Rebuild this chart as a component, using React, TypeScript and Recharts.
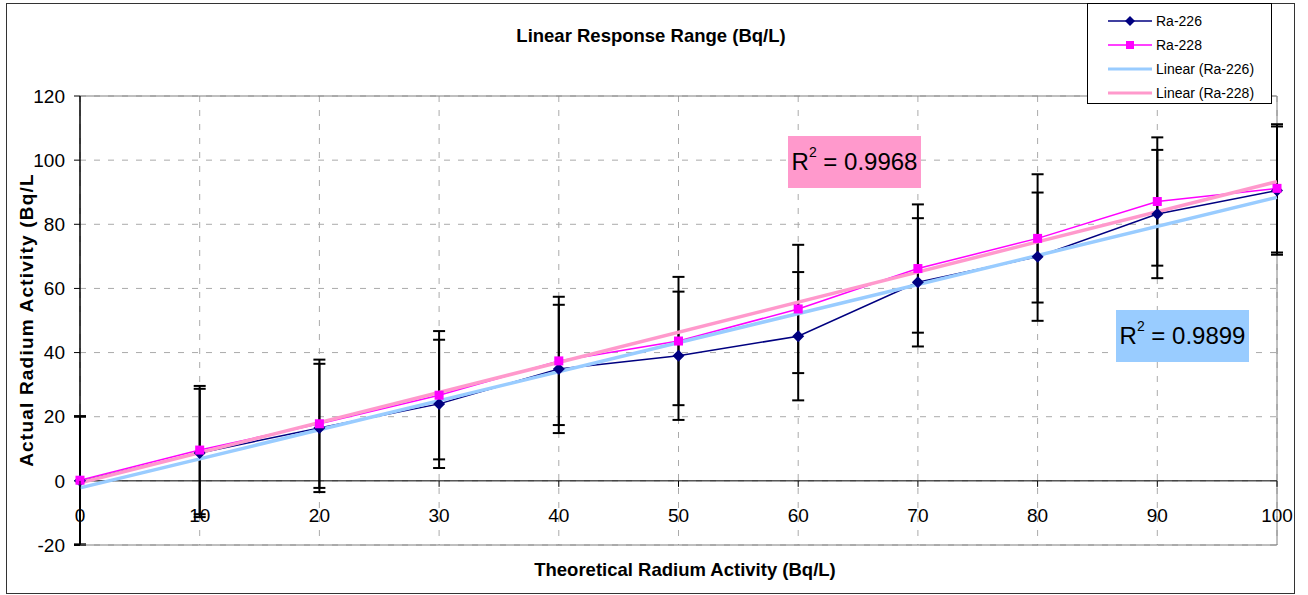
import {
  CartesianGrid,
  ComposedChart,
  ErrorBar,
  Line,
  ReferenceLine,
  XAxis,
  YAxis,
} from 'recharts';

// theoretical activity (Bq/L)
const theoretical = [0, 10, 20, 30, 40, 50, 60, 70, 80, 90, 100];
// measured activity (Bq/L)
const ra226 = [0, 8.7, 16.5, 24.0, 34.9, 39.0, 45.1, 61.9, 69.9, 83.2, 90.5];
const ra228 = [0.2, 9.6, 17.8, 26.7, 37.4, 43.6, 53.6, 66.2, 75.6, 87.1, 91.2];
// fixed +/- error bars
const err226 = [20, 20, 20, 20, 20, 20, 20, 20, 20, 20, 20];
const err228 = [20, 20, 20, 20, 20, 20, 20, 20, 20, 20, 20];
// linear trendlines, read at x = 0 and x = 100
const trendX = [0, 100];
const trend226 = [-2.2, 88.4];
const trend228 = [-0.6, 93.3];

const xTicks = [0, 10, 20, 30, 40, 50, 60, 70, 80, 90, 100];
const yTicks = [-20, 0, 20, 40, 60, 80, 100, 120];

const r2Ra226 = '0.9899';
const r2Ra228 = '0.9968';

const legendItems = ['Ra-226', 'Ra-228', 'Linear (Ra-226)', 'Linear (Ra-228)'];

const FONT = 'Arial, "Liberation Sans", sans-serif';
const NAVY = '#000080';
const MAGENTA = '#FF00FF';
const LIGHT_BLUE = '#99CCFF';
const PINK = '#FF99CC';

const PLOT_TOP = 96;
const PLOT_BOTTOM = 545;
const ZERO_OFFSET = ((PLOT_BOTTOM - PLOT_TOP) * 20) / 140;

const chartData = theoretical.map((x, i) => {
  const t = trendX.indexOf(x);
  return {
    x,
    ra226: ra226[i],
    ra228: ra228[i],
    e226: err226[i],
    e228: err228[i],
    t226: t >= 0 ? trend226[t] : undefined,
    t228: t >= 0 ? trend228[t] : undefined,
  };
});

// eslint-disable-next-line @typescript-eslint/no-explicit-any
function XTick(props: any) {
  const { x, y, payload } = props;
  const zeroY = y - ZERO_OFFSET;
  return (
    <g>
      <line x1={x} x2={x} y1={zeroY} y2={zeroY + 6} stroke="#000" />
      <text x={x} y={y - 23} textAnchor="middle" fontSize={19} fill="#000" fontFamily={FONT}>
        {payload.value}
      </text>
    </g>
  );
}

// eslint-disable-next-line @typescript-eslint/no-explicit-any
function Diamond(props: any) {
  const { cx, cy } = props;
  if (cx == null || cy == null) return null;
  const s = 6;
  return (
    <polygon
      points={`${cx},${cy - s} ${cx + s},${cy} ${cx},${cy + s} ${cx - s},${cy}`}
      fill={NAVY}
    />
  );
}

// eslint-disable-next-line @typescript-eslint/no-explicit-any
function Square(props: any) {
  const { cx, cy } = props;
  if (cx == null || cy == null) return null;
  const s = 4.5;
  return <rect x={cx - s} y={cy - s} width={s * 2} height={s * 2} fill={MAGENTA} />;
}

function LegendIcon({ index }: { index: number }) {
  return (
    <svg width={46} height={10} style={{ display: 'block' }}>
      {index === 0 && (
        <>
          <line x1={0} x2={44} y1={5} y2={5} stroke={NAVY} strokeWidth={1.5} />
          <polygon points="22,0 27,5 22,10 17,5" fill={NAVY} />
        </>
      )}
      {index === 1 && (
        <>
          <line x1={0} x2={44} y1={5} y2={5} stroke={MAGENTA} strokeWidth={1.5} />
          <rect x={18} y={1} width={8} height={8} fill={MAGENTA} />
        </>
      )}
      {index === 2 && <line x1={0} x2={44} y1={5} y2={5} stroke={LIGHT_BLUE} strokeWidth={3} />}
      {index === 3 && <line x1={0} x2={44} y1={5} y2={5} stroke={PINK} strokeWidth={3} />}
    </svg>
  );
}

function R2Box({ value, left, top, color }: { value: string; left: number; top: number; color: string }) {
  return (
    <div
      style={{
        position: 'absolute',
        left,
        top,
        width: 133,
        height: 52,
        background: color,
        display: 'flex',
        alignItems: 'center',
        justifyContent: 'center',
        fontFamily: FONT,
        fontSize: 24,
        color: '#000',
      }}
    >
      <span>
        R<sup style={{ fontSize: 14, verticalAlign: 'top', position: 'relative', top: -4 }}>2</sup> = {value}
      </span>
    </div>
  );
}

export default function App() {
  return (
    <div
      style={{
        position: 'absolute',
        left: 0,
        top: 0,
        width: 1308,
        height: 595,
        background: '#fff',
        fontFamily: FONT,
      }}
    >
      <div
        style={{
          position: 'absolute',
          left: 6,
          top: 3,
          width: 1287,
          height: 589,
          border: '1.5px solid #333',
        }}
      />
      <ComposedChart
        width={1308}
        height={595}
        data={chartData}
        margin={{ top: PLOT_TOP, right: 31, left: 20, bottom: 20 }}
        style={{ position: 'absolute', left: 0, top: 0 }}
      >
        <CartesianGrid stroke="#aaa" strokeDasharray="6 8" />
        <XAxis
          dataKey="x"
          type="number"
          domain={[0, 100]}
          ticks={xTicks}
          height={30}
          axisLine={{ stroke: '#808080' }}
          tickLine={false}
          tickSize={0}
          tickMargin={0}
          tick={<XTick />}
          interval={0}
        />
        <YAxis
          type="number"
          domain={[-20, 120]}
          ticks={yTicks}
          width={60}
          interval={0}
          axisLine={{ stroke: '#000', strokeWidth: 1.5 }}
          tickLine={{ stroke: '#000' }}
          tickSize={6}
          tickMargin={9}
          tick={{ fontSize: 19, fill: '#000', fontFamily: FONT }}
        />
        <ReferenceLine y={120} stroke="#808080" />
        <ReferenceLine x={100} stroke="#808080" />
        <ReferenceLine y={0} stroke="#000" />

        <Line
          dataKey="ra226"
          stroke={NAVY}
          strokeWidth={1.5}
          dot={<Diamond />}
          activeDot={false}
          isAnimationActive={false}
        >
          <ErrorBar dataKey="e226" direction="y" width={6} stroke="#000" strokeWidth={2} />
        </Line>
        <Line
          dataKey="ra228"
          stroke={MAGENTA}
          strokeWidth={1.5}
          dot={<Square />}
          activeDot={false}
          isAnimationActive={false}
        >
          <ErrorBar dataKey="e228" direction="y" width={6} stroke="#000" strokeWidth={2} />
        </Line>
        <Line
          dataKey="t226"
          stroke={LIGHT_BLUE}
          strokeWidth={3.5}
          dot={false}
          activeDot={false}
          connectNulls
          isAnimationActive={false}
        />
        <Line
          dataKey="t228"
          stroke={PINK}
          strokeWidth={3.5}
          dot={false}
          activeDot={false}
          connectNulls
          isAnimationActive={false}
        />
      </ComposedChart>

      {/* title */}
      <div
        style={{
          position: 'absolute',
          left: 451,
          top: 25,
          width: 400,
          textAlign: 'center',
          fontWeight: 'bold',
          fontSize: 18.5,
        }}
      >
        Linear Response Range (Bq/L)
      </div>

      {/* x axis title */}
      <div
        style={{
          position: 'absolute',
          left: 485,
          top: 559,
          width: 400,
          textAlign: 'center',
          fontWeight: 'bold',
          fontSize: 18.5,
        }}
      >
        Theoretical Radium Activity (Bq/L)
      </div>

      {/* y axis title */}
      <div
        style={{
          position: 'absolute',
          left: 27 - 200,
          top: 320 - 12,
          width: 400,
          height: 24,
          lineHeight: '24px',
          textAlign: 'center',
          fontWeight: 'bold',
          fontSize: 19,
          letterSpacing: 1.2,
          transform: 'rotate(-90deg)',
        }}
      >
        Actual Radium Activity (Bq/L
      </div>

      <R2Box value={r2Ra228} left={788} top={136} color={PINK} />
      <R2Box value={r2Ra226} left={1116} top={310} color={LIGHT_BLUE} />

      {/* legend */}
      <div
        style={{
          position: 'absolute',
          left: 1087,
          top: 3,
          width: 185,
          height: 101,
          border: '1px solid #000',
          background: '#fff',
          boxSizing: 'border-box',
          paddingTop: 5,
        }}
      >
        {legendItems.map((name, i) => (
          <div
            key={name}
            style={{ display: 'flex', alignItems: 'center', height: 24, paddingLeft: 20 }}
          >
            <LegendIcon index={i} />
            <span style={{ fontSize: 14, marginLeft: 2 }}>{name}</span>
          </div>
        ))}
      </div>
    </div>
  );
}
